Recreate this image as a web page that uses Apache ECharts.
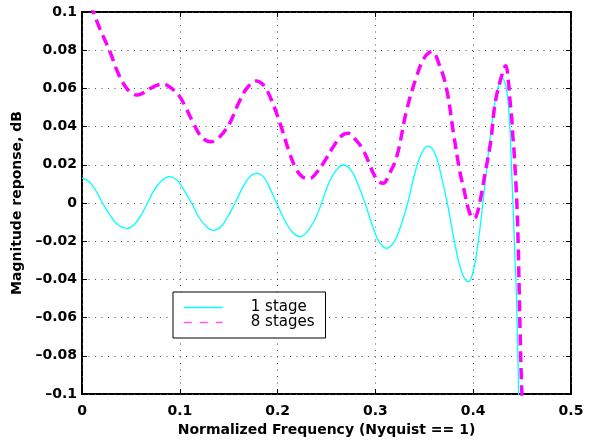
<!DOCTYPE html>
<html>
<head>
<meta charset="utf-8">
<script src="https://cdn.jsdelivr.net/npm/echarts@6/dist/echarts.min.js"></script>
<style>
html,body{margin:0;padding:0;background:#fff;}
#chart{width:590px;height:444px;}
</style>
</head>
<body>
<div id="chart"></div>
<script>
// ---- data ----
const seriesNames = ['1 stage', '8 stages'];
const xTickLabels = ['0', '0.1', '0.2', '0.3', '0.4', '0.5'];
const yTickLabels = ['\u20130.1', '\u20130.08', '\u20130.06', '\u20130.04', '\u20130.02', '0', '0.02', '0.04', '0.06', '0.08', '0.1'];

const stage1Freq = [0.000, 0.007, 0.014, 0.021, 0.029, 0.037, 0.0457, 0.053, 0.060, 0.067, 0.074, 0.082, 0.0895, 0.097, 0.104, 0.112, 0.119, 0.127, 0.1343, 0.142, 0.149, 0.1565, 0.164, 0.171, 0.1786, 0.186, 0.192, 0.199, 0.207, 0.215, 0.2229, 0.230, 0.238, 0.245, 0.252, 0.260, 0.2672, 0.275, 0.282, 0.2894, 0.297, 0.304, 0.3115, 0.319, 0.326, 0.333, 0.340, 0.347, 0.354, 0.361, 0.367, 0.3735, 0.381, 0.388, 0.395, 0.400, 0.405, 0.410, 0.415, 0.420, 0.425, 0.430, 0.433, 0.435, 0.4365, 0.438, 0.4393, 0.441, 0.4425, 0.4444, 0.4465, 0.448];
const stage1Mag = [0.0131, 0.0113, 0.0066, 0.0, -0.0066, -0.0115, -0.0133, -0.0115, -0.0067, 0.0, 0.0069, 0.0119, 0.0138, 0.0120, 0.0070, 0.0, -0.0071, -0.0122, -0.0143, -0.0124, -0.0072, 0.0, 0.0078, 0.0134, 0.0155, 0.0134, 0.0078, 0.0, -0.0088, -0.0152, -0.0176, -0.0152, -0.0088, 0.0, 0.0100, 0.0172, 0.0199, 0.0172, 0.0100, 0.0, -0.0119, -0.0205, -0.0237, -0.0205, -0.0119, 0.0, 0.0149, 0.0258, 0.0298, 0.0258, 0.0149, 0.0, -0.0206, -0.0357, -0.0412, -0.0358, -0.0209, 0.0005, 0.0238, 0.0450, 0.0598, 0.0653, 0.0620, 0.0560, 0.0480, 0.0340, 0.0165, -0.0040, -0.0260, -0.0510, -0.1000, -0.1250];

const stage8Freq = [0.000, 0.006, 0.0116, 0.0184, 0.0286, 0.037, 0.045, 0.051, 0.056, 0.062, 0.070, 0.077, 0.083, 0.088, 0.094, 0.100, 0.107, 0.114, 0.120, 0.126, 0.131, 0.137, 0.144, 0.151, 0.1616, 0.170, 0.1786, 0.184, 0.189, 0.196, 0.2025, 0.2127, 0.2195, 0.226, 0.233, 0.240, 0.2467, 0.257, 0.265, 0.2723, 0.280, 0.2876, 0.298, 0.303, 0.308, 0.314, 0.3218, 0.332, 0.342, 0.350, 0.3576, 0.366, 0.373, 0.3797, 0.3865, 0.391, 0.395, 0.400, 0.403, 0.407, 0.412, 0.4165, 0.419, 0.4206, 0.4233, 0.4274, 0.4332, 0.436, 0.4376, 0.4393, 0.4403, 0.4417, 0.4427, 0.4438, 0.4450, 0.4460, 0.4470, 0.4480, 0.4490, 0.4498, 0.451];
const stage8Mag = [0.112, 0.108, 0.100, 0.0911, 0.0792, 0.0679, 0.0605, 0.0575, 0.0565, 0.0575, 0.0600, 0.0617, 0.0623, 0.0613, 0.0590, 0.0557, 0.0490, 0.0417, 0.0360, 0.0330, 0.0321, 0.0330, 0.0365, 0.0417, 0.0539, 0.0610, 0.0639, 0.0625, 0.0592, 0.0510, 0.0417, 0.0255, 0.0173, 0.0135, 0.0129, 0.0160, 0.0208, 0.0295, 0.0350, 0.0365, 0.0330, 0.0277, 0.0155, 0.0115, 0.0103, 0.0150, 0.0242, 0.0487, 0.0661, 0.0760, 0.0792, 0.0714, 0.0592, 0.0370, 0.0160, 0.0060, -0.0030, -0.0080, -0.0070, 0.0010, 0.0150, 0.0277, 0.0365, 0.0452, 0.0548, 0.0635, 0.0718, 0.0635, 0.0539, 0.0452, 0.0365, 0.0277, 0.0190, 0.0090, -0.0050, -0.0220, -0.0450, -0.0680, -0.0880, -0.1000, -0.1250];

const xMin = 0, xMax = 0.5, xStep = 0.1;
const yMin = -0.1, yMax = 0.1, yStep = 0.02;

function zip(xs, ys) { return xs.map((x, i) => [x, ys[i]]); }

const axisFont = { fontFamily: 'DejaVu Sans', fontWeight: 'bold', fontSize: 14, color: '#000' };
const gridDots = { show: true, lineStyle: { color: '#555', width: 1, type: [1, 5.5] } };
const inTicks = { show: true, inside: true, length: 5, lineStyle: { color: '#000', width: 1 } };

const chart = echarts.init(document.getElementById('chart'), null, { renderer: 'canvas' });
chart.setOption({
  animation: false,
  backgroundColor: '#fff',
  grid: { left: 82, right: 19, top: 12, bottom: 50, show: true, borderColor: '#000', borderWidth: 2, backgroundColor: 'transparent' },
  xAxis: [
    {
      type: 'value', min: xMin, max: xMax, interval: xStep, position: 'bottom',
      name: 'Normalized Frequency (Nyquist == 1)', nameLocation: 'middle', nameGap: 27,
      nameTextStyle: axisFont,
      axisLine: { show: false, onZero: false },
      axisTick: inTicks,
      axisLabel: Object.assign({ margin: 10, formatter: (v) => xTickLabels[Math.round((v - xMin) / xStep)] }, axisFont),
      splitLine: gridDots
    },
    {
      type: 'value', min: xMin, max: xMax, interval: xStep, position: 'top',
      axisLine: { show: false, onZero: false }, axisTick: inTicks, axisLabel: { show: false }, splitLine: { show: false }
    }
  ],
  yAxis: [
    {
      type: 'value', min: yMin, max: yMax, interval: yStep, position: 'left',
      name: 'Magnitude reponse, dB', nameLocation: 'middle', nameGap: 50,
      nameTextStyle: axisFont,
      axisLine: { show: false, onZero: false },
      axisTick: inTicks,
      axisLabel: Object.assign({ margin: 5, formatter: (v) => yTickLabels[Math.round((v - yMin) / yStep)] }, axisFont),
      splitLine: gridDots
    },
    {
      type: 'value', min: yMin, max: yMax, interval: yStep, position: 'right',
      axisLine: { show: false, onZero: false }, axisTick: inTicks, axisLabel: { show: false }, splitLine: { show: false }
    }
  ],
  legend: {
    orient: 'vertical', left: 173, top: 292,
    padding: [8, 11, 8, 10], itemGap: 0, itemWidth: 39, itemHeight: 15,
    backgroundColor: '#fff', borderColor: '#000', borderWidth: 1, borderRadius: 0,
    itemStyle: { opacity: 0 },
    textStyle: { fontFamily: 'DejaVu Sans', fontSize: 15, color: '#000', lineHeight: 15, padding: [0, 0, 0, 23] },
    data: [
      { name: seriesNames[0], itemStyle: { opacity: 0 }, lineStyle: { width: 1.3, type: 'solid', color: '#00ffff' } },
      { name: seriesNames[1], itemStyle: { opacity: 0 }, lineStyle: { width: 1.5, type: [8, 8], color: '#ff55ff' } }
    ]
  },
  series: [
    {
      name: seriesNames[0], type: 'line', data: zip(stage1Freq, stage1Mag),
      showSymbol: false, symbol: 'none', smooth: 0.45, clip: true,
      lineStyle: { color: '#00ffff', width: 1.3 }, itemStyle: { color: '#00ffff' }, z: 3
    },
    {
      name: seriesNames[1], type: 'line', data: zip(stage8Freq, stage8Mag),
      showSymbol: false, symbol: 'none', smooth: 0.4, clip: true,
      lineStyle: { color: '#ff00ff', width: 3.5, type: [11, 6] }, itemStyle: { color: '#ff00ff' }, z: 4
    }
  ]
});
</script>
</body>
</html>
